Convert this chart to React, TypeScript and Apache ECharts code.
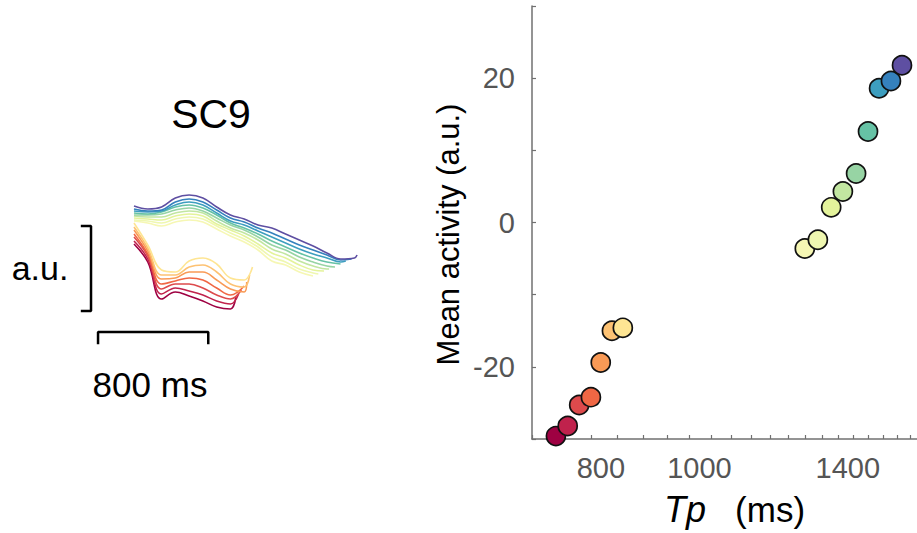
import React, { useEffect, useRef } from 'react';
import * as echarts from 'echarts';

const FONT = '"Liberation Sans", Arial, Helvetica, sans-serif';

// Produced intervals (ms) per condition and mean activity (a.u.)
const tpValues = [739, 759, 779, 800, 818, 839, 860, 1299, 1338, 1379, 1416, 1459, 1499, 1537, 1579, 1619];
const meanActivity = [-29.6, -28.2, -25.3, -24.2, -19.4, -15.0, -14.6, -3.6, -2.4, 2.1, 4.3, 6.8, 12.6, 18.6, 19.6, 21.8];
const conditionColors = [
  '#9e0142', '#c0224c', '#dd4a4c', '#f06744', '#f99a56', '#fdc273', '#fee593',
  '#f6f7b4', '#eff7b0', '#e4f39b', '#c2e6a1', '#97d4a4', '#66c2a5', '#3d9ebf', '#3581bd', '#5e4fa2',
];

const xTickValues = [700, 750, 800, 850, 900, 950, 1000, 1050, 1100, 1150, 1200, 1250, 1300, 1350, 1400, 1450, 1500, 1550, 1600, 1650];
const xLabelValues = [800, 1000, 1400];
const yLabelValues = [-20, 0, 20];

// SC9 traces: activity sampled every 100 ms from 0, final value at t = Tp
const traceStep = 100;
const traceValues = [
  [56, 38, 1, 8, 4, -1, -7, -9, 3],
  [59, 41, 6, 12, 9, 5, -1, -4, 6],
  [63, 44, 11, 16, 16, 12, 5, 1, 10],
  [66, 46, 16, 19, 22, 20, 12, 5, 14],
  [70, 49, 21, 22, 28, 28, 20, 11, 8, 18],
  [73, 52, 25, 25, 33, 35, 28, 16, 13, 25],
  [77, 55, 30, 28, 39, 42, 36, 22, 20, 33],
  [79, 77, 74, 78, 80, 78, 71, 64, 58, 50, 39, 35, 28, 24],
  [80, 79, 77, 81, 83, 81, 74, 67, 61, 53, 43, 38, 31, 27, 26],
  [82, 81, 80, 84, 86, 84, 76, 70, 64, 56, 47, 42, 35, 30, 29],
  [84, 83, 83, 87, 89, 87, 79, 72, 67, 60, 51, 46, 39, 34, 31, 31],
  [85, 85, 86, 90, 92, 89, 82, 75, 70, 63, 55, 50, 43, 38, 34, 33],
  [87, 86, 88, 93, 95, 92, 85, 77, 72, 66, 59, 53, 47, 42, 38, 36],
  [89, 88, 89, 95, 98, 95, 87, 79, 75, 69, 63, 57, 51, 46, 42, 38, 39],
  [91, 89, 90, 98, 101, 98, 90, 82, 78, 72, 67, 61, 55, 50, 45, 40, 41],
  [94, 91, 93, 102, 105, 102, 93, 85, 81, 75, 72, 66, 60, 54, 47, 41, 42, 45],
];

// scale bars (in trace units: ms, a.u.)
const auBar = [[-377, 74], [-312, 74], [-312, -11], [-377, -11]];
const msBar = [[-261, -43], [-261, -32], [539, -32], [539, -43]];

function traceData(tp: number, vals: number[]) {
  const pts: number[][] = [];
  for (let i = 0; i < vals.length - 1; i++) pts.push([i * traceStep, vals[i]]);
  pts.push([tp, vals[vals.length - 1]]);
  return pts;
}

export default function App() {
  const ref = useRef<HTMLDivElement>(null);
  useEffect(() => {
    document.body.style.margin = '0';
    if (!ref.current) return;
    const chart = echarts.init(ref.current, undefined, { renderer: 'svg' });

    const traceSeries = traceValues.map((vals, i) => ({
      type: 'line',
      xAxisIndex: 0,
      yAxisIndex: 0,
      data: traceData(tpValues[i], vals),
      showSymbol: false,
      smooth: 0.4,
      lineStyle: { color: conditionColors[i], width: 1.6 },
      silent: true,
      z: 2,
    }));

    const barSeries = [auBar, msBar].map((d) => ({
      type: 'line',
      xAxisIndex: 0,
      yAxisIndex: 0,
      data: d,
      showSymbol: false,
      lineStyle: { color: '#000', width: 2.5, cap: 'square' },
      silent: true,
    }));

    const option: any = {
      animation: false,
      backgroundColor: '#fff',
      textStyle: { fontFamily: FONT },
      grid: [
        { left: 10, width: 372, top: 160, height: 200 },
        { left: 532, right: 0, top: 6, height: 433 },
      ],
      xAxis: [
        { gridIndex: 0, type: 'value', min: -900, max: 1800, show: false },
        {
          gridIndex: 1,
          type: 'log',
          logBase: 10,
          min: 700,
          max: 1675,
          axisLine: { show: true, onZero: false, lineStyle: { color: '#707070', width: 1.5 } },
          axisTick: { show: true, inside: true, length: 4, customValues: xTickValues, lineStyle: { color: '#707070', width: 1.2 } },
          axisLabel: {
            customValues: xLabelValues,
            formatter: (v: number) => String(Math.round(v)),
            fontSize: 29,
            color: '#555',
            margin: 14,
            padding: [0, 0, 0, 20],
            fontFamily: FONT,
          },
          splitLine: { show: false },
          minorTick: { show: false },
          name: '{i|Tp}   (ms)',
          nameLocation: 'middle',
          nameGap: 52,
          nameTextStyle: {
            fontSize: 35,
            color: '#000',
            fontFamily: FONT,
            padding: [0, 0, 0, 20],
            rich: { i: { fontStyle: 'italic', fontSize: 36, color: '#000', fontFamily: FONT } },
          },
        },
      ],
      yAxis: [
        { gridIndex: 0, type: 'value', min: -60, max: 140, show: false },
        {
          gridIndex: 1,
          type: 'value',
          min: -30,
          max: 30,
          interval: 10,
          axisLine: { show: true, onZero: false, lineStyle: { color: '#707070', width: 1.5 } },
          axisTick: { show: true, inside: true, length: 4, lineStyle: { color: '#707070', width: 1.2 } },
          axisLabel: {
            customValues: yLabelValues,
            formatter: (v: number) => String(v),
            fontSize: 29,
            color: '#555',
            margin: 17,
            fontFamily: FONT,
          },
          splitLine: { show: false },
          name: 'Mean activity (a.u.)',
          nameLocation: 'middle',
          nameGap: 68,
          nameRotate: 90,
          nameTextStyle: { fontSize: 31, color: '#000', fontFamily: FONT, padding: [0, 24, 0, 0] },
        },
      ],
      series: [
        ...traceSeries,
        ...barSeries,
        {
          type: 'scatter',
          xAxisIndex: 1,
          yAxisIndex: 1,
          symbolSize: 19,
          data: tpValues.map((tp, i) => ({
            value: [tp, meanActivity[i]],
            itemStyle: { color: conditionColors[i], borderColor: '#111', borderWidth: 1.7, opacity: 1 },
          })),
          z: 3,
        },
      ],
      graphic: [
        { type: 'text', x: 211, y: 114, style: { text: 'SC9', fontSize: 41, fontFamily: FONT, fill: '#000', textAlign: 'center', textVerticalAlign: 'middle' } },
        { type: 'text', x: 40, y: 268, style: { text: 'a.u.', fontSize: 34, fontFamily: FONT, fill: '#000', textAlign: 'center', textVerticalAlign: 'middle' } },
        { type: 'text', x: 150, y: 384, style: { text: '800 ms', fontSize: 35, fontFamily: FONT, fill: '#000', textAlign: 'center', textVerticalAlign: 'middle' } },
      ],
    };
    chart.setOption(option);
    return () => chart.dispose();
  }, []);
  return <div ref={ref} style={{ width: 917, height: 533 }} />;
}
